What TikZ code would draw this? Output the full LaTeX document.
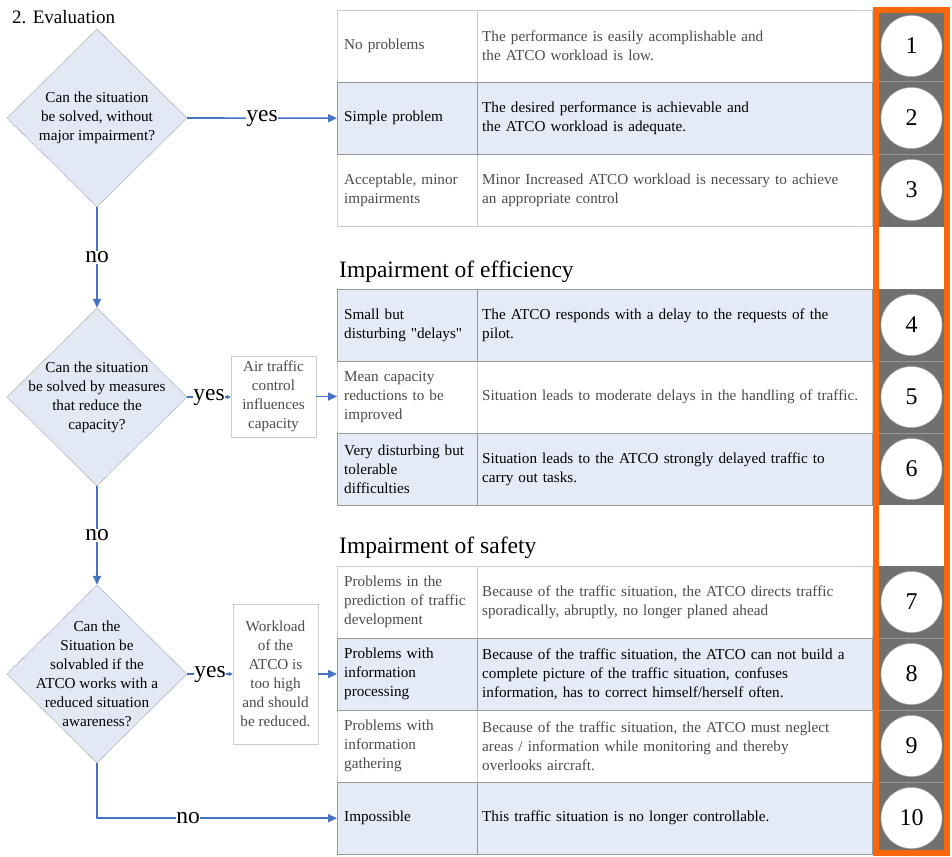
\documentclass[tikz,border=0pt]{standalone}
\usepackage{fontspec}
\setmainfont{Liberation Serif}
\usetikzlibrary{shapes.geometric,arrows.meta,positioning}
\definecolor{flowblue}{RGB}{68,114,196}
\definecolor{rowblue}{RGB}{229,235,246}
\definecolor{diamondblue}{RGB}{226,233,244}
\definecolor{frameorange}{RGB}{250,102,10}
\definecolor{ratinggray}{RGB}{112,112,112}
\definecolor{softtext}{RGB}{75,75,75}
\newcommand{\bodysize}{\fontsize{15.2}{19}\selectfont\hyphenpenalty=10000\exhyphenpenalty=10000}
\begin{document}
\begin{tikzpicture}
[x=1pt, y=-1pt,
  decision/.style={shape=diamond,draw=black!35,fill=diamondblue,minimum width=180pt,minimum height=178pt,inner sep=0pt},%
  decisiontext/.style={align=center,font=\bodysize,inner sep=0pt},%
  notebox/.style={draw=black!20,fill=white,align=center,font=\bodysize,text=softtext,inner sep=2pt},%
  plainrow/.style={fill=white,draw=black!20,text=softtext},%
  bluerow/.style={fill=rowblue,draw=black!40,text=black},%
  levelcell/.style={anchor=north west,minimum width=140pt,minimum height=72pt,text width=126pt,inner xsep=7pt,align=left,font=\bodysize},%
  desccell/.style={anchor=north west,minimum width=395pt,minimum height=72pt,text width=385pt,inner xsep=5pt,align=left,font=\bodysize},%
  ratingcircle/.style={shape=circle,fill=white,draw=black!30,minimum size=61pt,inner sep=0pt,font=\fontsize{24}{24}\selectfont},%
  heading/.style={anchor=west,inner sep=0pt,font=\fontsize{23.5}{26}\selectfont},%
  flowarrow/.style={draw=flowblue,line width=1.6pt,-{Triangle[length=9pt,width=8pt]}},%
  tinyarrow/.style={draw=flowblue,line width=1.6pt,-{Triangle[length=4pt,width=4pt]}},%
  flowlabel/.style={fill=white,inner sep=0.5pt,font=\fontsize{23.5}{24}\selectfont}]
\useasboundingbox (0,0) rectangle (952,856);
%% title and section headings
\node (title) at (12,17) [anchor=west,inner sep=0pt,font=\fontsize{19}{22}\selectfont] {2. Evaluation};
\node (efficiency) at (339,272) [heading] {Impairment of efficiency};
\node (safety) at (339,548) [heading] {Impairment of safety};
%% decisions
\foreach \nodename/\y in {d1/118, d2/397, d3/674} {
  \node (\nodename) at (97,\y) [decision] {};
}
\node (d1q) at (d1) [decisiontext] {Can the situation\\be solved, without\\major impairment?};
\node (d2q) at (d2) [decisiontext] {Can the situation\\be solved by measures\\that reduce the\\capacity?};
\node (d3q) at (d3) [decisiontext] {Can the\\Situation be\\solvabled if the\\ATCO works with a\\reduced situation\\awareness?};
%% side notes
\node (note1) at (273.5,396.5) [notebox,minimum width=85pt,minimum height=81pt] {Air traffic\\control\\influences\\capacity};
\node (note2) at (275.5,674) [notebox,minimum width=85pt,minimum height=140pt] {Workload\\of the\\ATCO is\\too high\\and should\\be reduced.};
%% rating column
\foreach \top/\bot in {12/227, 289/505, 566/853} {
  \fill[ratinggray] (876,\top) rectangle (947,\bot);
}
\foreach \y in {82, 154, 361, 433, 638, 710, 782} {
  \draw[black!40,line width=1pt] (876,\y) -- (947,\y);
}
%% table rows
\foreach \row/\top/\kind/\levelname/\leveldesc in {
  1/10/plainrow/{No problems}/{The performance is easily acomplishable and\\the ATCO workload is low.},
  3/154/plainrow/{Acceptable, minor\\impairments}/{Minor Increased ATCO workload is necessary to achieve\\an appropriate control},
  5/361/plainrow/{Mean capacity\\reductions to be\\improved}/{Situation leads to moderate delays in the handling of traffic.},
  7/566/plainrow/{Problems in the\\prediction of traffic\\development}/{Because of the traffic situation, the ATCO directs traffic\\sporadically, abruptly, no longer planed ahead},
  9/710/plainrow/{Problems with\\information\\gathering}/{Because of the traffic situation, the ATCO must neglect\\areas / information while monitoring and thereby\\overlooks aircraft.},
  2/82/bluerow/{Simple problem}/{The desired performance is achievable and\\the ATCO workload is adequate.},
  4/289/bluerow/{Small but\\disturbing \textquotedbl delays\textquotedbl}/{The ATCO responds with a delay to the requests of the\\pilot.},
  6/433/bluerow/{Very disturbing but\\tolerable\\difficulties}/{Situation leads to the ATCO strongly delayed traffic to\\carry out tasks.},
  8/638/bluerow/{Problems with\\information\\processing}/{Because of the traffic situation, the ATCO can not build a\\complete picture of the traffic situation, confuses\\information, has to correct himself/herself often.},
  10/782/bluerow/{Impossible}/{This traffic situation is no longer controllable.}} {
  \node (r\row l) at (337,\top) [levelcell,\kind] {\levelname};
  \node (r\row d) at (477,\top) [desccell,\kind] {\leveldesc};
}
\foreach \nodename/\y in {1/46, 2/118, 3/190, 4/325, 5/397, 6/469, 7/602, 8/674, 9/746, 10/818} {
  \node (c\nodename) at (911.5,\y) [ratingcircle] {\nodename};
}
\draw[frameorange,line width=6pt] (876,10) rectangle (947,853);
%% connectors
\draw[flowarrow] (d1.east) -- node[flowlabel] {yes} (r2l.west);
\draw[flowarrow] (d1.south) -- node[flowlabel] {no} (d2.north);
\draw[tinyarrow] (d2.east) -- node[flowlabel] {yes} (d2.east -| note1.west);
\draw[flowarrow] (note1.east) -- (note1.east -| r5l.west);
\draw[flowarrow] (d2.south) -- node[flowlabel] {no} (d3.north);
\draw[tinyarrow] (d3.east) -- node[flowlabel] {yes} (d3.east -| note2.west);
\draw[flowarrow] (note2.east) -- (note2.east -| r8l.west);
\draw[flowarrow] (d3.south) |- node[flowlabel,pos=0.69] {no} (r10l.west);
\end{tikzpicture}
\end{document}
